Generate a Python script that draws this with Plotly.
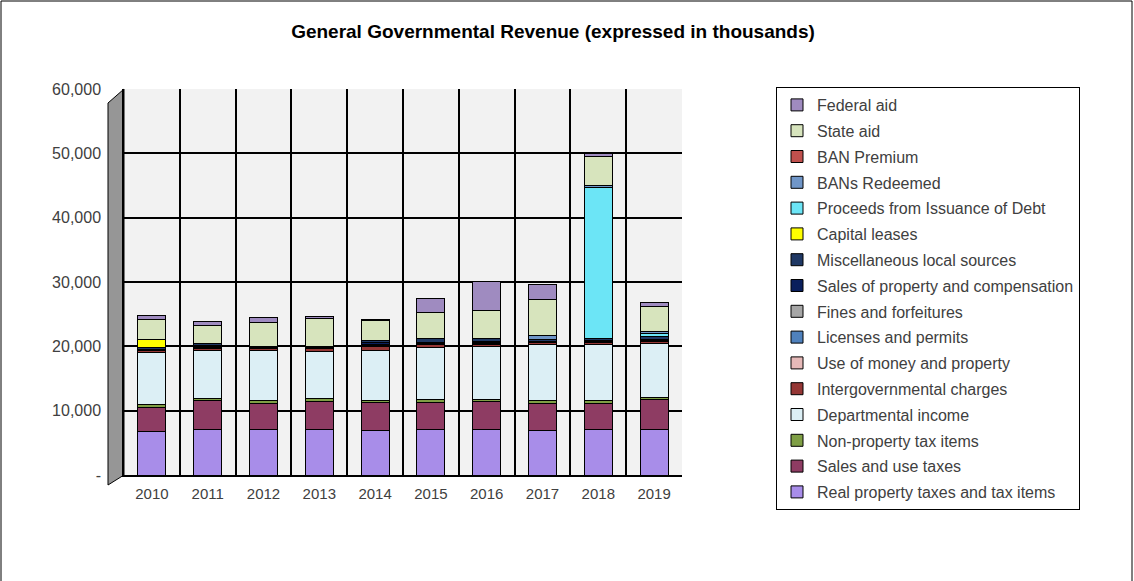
import plotly.graph_objects as go

# Fiscal years on the category axis
years = ["2010", "2011", "2012", "2013", "2014", "2015", "2016", "2017", "2018", "2019"]

# Revenue by source, in thousands of dollars (stacked bottom to top)
real_property = [6750, 7100, 7000, 7000, 6900, 7000, 7090, 6940, 7000, 7100]
sales_use = [3730, 4460, 4150, 4420, 4350, 4260, 4260, 4150, 4150, 4560]
non_property = [500, 360, 360, 510, 400, 400, 400, 420, 420, 370]
departmental = [8040, 7510, 7780, 7260, 7780, 8150, 8190, 8710, 8650, 8450]
intergovernmental = [300, 300, 350, 400, 500, 400, 400, 300, 400, 300]
use_of_money = [100, 100, 150, 150, 200, 150, 120, 100, 100, 100]
licenses = [50, 50, 50, 50, 50, 50, 50, 50, 50, 50]
fines = [50, 50, 50, 50, 150, 50, 50, 50, 50, 50]
sales_of_property = [50, 200, 30, 30, 200, 200, 120, 100, 100, 70]
misc_local = [200, 300, 100, 100, 350, 600, 500, 200, 340, 500]
capital_leases = [1300, 0, 0, 0, 0, 0, 0, 0, 0, 0]
proceeds_debt = [0, 0, 0, 0, 0, 0, 0, 0, 23430, 520]
bans_redeemed = [0, 0, 0, 0, 0, 0, 0, 600, 300, 200]
ban_premium = [0, 0, 0, 0, 0, 0, 0, 0, 0, 0]
state_aid = [3160, 2850, 3630, 4300, 3210, 4000, 4400, 5700, 4510, 4000]
federal_aid = [500, 620, 780, 360, 100, 2230, 4460, 2230, 400, 520]

series = [
    ("Real property taxes and tax items", real_property, "#A88DE9"),
    ("Sales and use taxes", sales_use, "#8E3C63"),
    ("Non-property tax items", non_property, "#7F9F45"),
    ("Departmental income", departmental, "#DCEFF5"),
    ("Intergovernmental charges", intergovernmental, "#953735"),
    ("Use of money and property", use_of_money, "#E6B9B8"),
    ("Licenses and permits", licenses, "#4F81BD"),
    ("Fines and forfeitures", fines, "#A6A6A6"),
    ("Sales of property and compensation", sales_of_property, "#0A1F5C"),
    ("Miscellaneous local sources", misc_local, "#1F3864"),
    ("Capital leases", capital_leases, "#FFFF00"),
    ("Proceeds from Issuance of Debt", proceeds_debt, "#6CE5F6"),
    ("BANs Redeemed", bans_redeemed, "#7096C8"),
    ("BAN Premium", ban_premium, "#C0504D"),
    ("State aid", state_aid, "#D7E4BD"),
    ("Federal aid", federal_aid, "#9F8BC0"),
]

ytick_vals = [0, 10000, 20000, 30000, 40000, 50000, 60000]
ytick_text = ["-", "10,000", "20,000", "30,000", "40,000", "50,000", "60,000"]

fig = go.Figure()
for i, (name, vals, color) in enumerate(series):
    fig.add_trace(go.Bar(
        x=list(range(len(years))),
        y=vals,
        name=name,
        legendgroup=name,
        legendrank=100 + len(series) - i,  # top of the stack listed first
        width=0.5,
        marker=dict(color=color, line=dict(color="#000000", width=1)),
    ))

W, H = 1134, 581
ml, mr, mt, mb = 124, 452, 89, 106
pw = W - ml - mr
ph = H - mt - mb


def px_x(x):
    return (x - ml) / pw


def px_y(y):
    return (H - mb - y) / ph


shapes = [
    # outer frame of the chart
    dict(type="rect", xref="paper", yref="paper",
         x0=px_x(1), x1=px_x(W - 2), y0=px_y(H + 5), y1=px_y(1),
         line=dict(color="#000000", width=1), fillcolor="rgba(0,0,0,0)", layer="below"),
    # side wall next to the value axis
    dict(type="path", xref="paper", yref="paper",
         path="M {a},{b} L {c},{d} L {c},{e} L {a},{f} Z".format(
             a=px_x(108), b=px_y(mt + 14), c=px_x(ml), d=px_y(mt),
             e=px_y(H - mb), f=px_y(H - mb + 10)),
         fillcolor="#969696", line=dict(color="#000000", width=1), layer="below"),
]

fig.update_layout(
    width=W, height=H,
    barmode="stack",
    paper_bgcolor="#FFFFFF",
    plot_bgcolor="#F2F2F2",
    margin=dict(l=ml, r=mr, t=mt, b=mb, autoexpand=False),
    font=dict(family="Liberation Sans, Arial, sans-serif", size=15, color="#404040"),
    title=dict(
        text="<b>General Governmental Revenue (expressed in thousands)</b>",
        x=553 / W, xanchor="center", xref="container",
        y=1 - 31 / H, yanchor="middle", yref="container",
        font=dict(size=19, color="#000000"),
    ),
    xaxis=dict(
        tickmode="array",
        tickvals=list(range(len(years))),
        ticktext=years,
        range=[-0.5, len(years) - 0.5],
        showgrid=False,
        zeroline=False,
        showline=True, linecolor="#000000", linewidth=1.5,
        ticks="outside", ticklen=4, tickcolor="rgba(0,0,0,0)",
        tickfont=dict(size=15),
        minor=dict(tickmode="linear", tick0=0.5, dtick=1, showgrid=True,
                   gridcolor="#000000", gridwidth=1.5, ticks=""),
    ),
    yaxis=dict(
        range=[0, 60000],
        tickmode="array",
        tickvals=ytick_vals,
        ticktext=ytick_text,
        showgrid=True, gridcolor="#000000", gridwidth=1.5,
        zeroline=False,
        showline=True, linecolor="#000000", linewidth=1.5,
        ticks="outside", ticklen=18, tickcolor="rgba(0,0,0,0)",
        tickfont=dict(size=16),
    ),
    legend=dict(
        traceorder="grouped",
        x=px_x(776), xanchor="left",
        y=px_y(87), yanchor="top",
        bgcolor="#FFFFFF",
        bordercolor="#000000", borderwidth=1,
        font=dict(size=16, color="#404040"),
        itemwidth=30,
        tracegroupgap=2,
        maxheight=560,
    ),
    shapes=shapes,
)

fig.write_html("out.html")
